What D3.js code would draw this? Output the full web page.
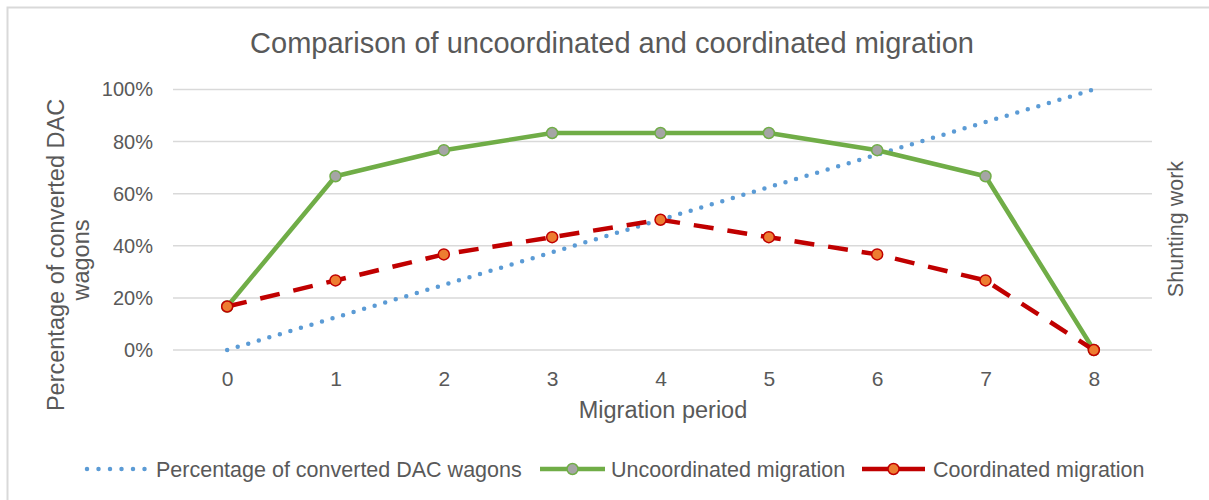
<!DOCTYPE html>
<html><head><meta charset="utf-8">
<script src="https://cdn.jsdelivr.net/npm/d3@7"></script>
<style>body{margin:0;background:#fff}text{font-family:"Liberation Sans",Arial,sans-serif;fill:#595959}</style>
</head><body><svg id="c" width="1209" height="500"></svg>
<script>
const periods = ["0","1","2","3","4","5","6","7","8"];
const convertedDAC = [0, 0.125, 0.25, 0.375, 0.5, 0.625, 0.75, 0.875, 1.0];
const uncoordinated = [0.167, 0.667, 0.767, 0.833, 0.833, 0.833, 0.767, 0.667, 0];
const coordinated = [0.167, 0.267, 0.367, 0.433, 0.5, 0.433, 0.367, 0.267, 0];
const yTicks = [0, 0.2, 0.4, 0.6, 0.8, 1.0];

const svg = d3.select("#c");
svg.append("path").attr("d","M7.5,520V7.5H1220").attr("fill","none").attr("stroke","#d9d9d9").attr("stroke-width",2);

const L=173,R=1148,T=89.5,B=350;
const x = d3.scalePoint().domain(periods).range([L,R]).padding(0.5);
const y = d3.scaleLinear().domain([0,1]).range([B,T]);

// gridlines
svg.append("g").selectAll("line").data(yTicks).join("line")
  .attr("x1",L).attr("x2",R+4).attr("y1",d=>y(d)).attr("y2",d=>y(d))
  .attr("stroke","#d9d9d9").attr("stroke-width",1.5);

// y axis
const ya = svg.append("g").attr("transform",`translate(${L},0)`)
  .call(d3.axisLeft(y).tickValues(yTicks).tickFormat(d3.format(".0%")).tickSize(0).tickPadding(20));
ya.select(".domain").remove();
ya.selectAll("text").attr("font-size",20).style("font-family","Liberation Sans, Arial").attr("fill","#595959");

// x axis
const xa = svg.append("g").attr("transform",`translate(0,${B})`)
  .call(d3.axisBottom(x).tickSize(0).tickPadding(21));
xa.select(".domain").remove();
xa.selectAll("text").attr("font-size",21).style("font-family","Liberation Sans, Arial").attr("fill","#595959");

const line = d3.line().x((d,i)=>x(periods[i])).y(d=>y(d));

// series
svg.append("path").datum(convertedDAC).attr("d",line).attr("fill","none")
  .attr("stroke","#5b9bd5").attr("stroke-width",4.5).attr("stroke-linecap","round").attr("stroke-dasharray","0 11");
svg.append("path").datum(uncoordinated).attr("d",line).attr("fill","none")
  .attr("stroke","#70ad47").attr("stroke-width",4.5).attr("stroke-linejoin","round");
svg.append("g").selectAll("circle").data(uncoordinated).join("circle")
  .attr("cx",(d,i)=>x(periods[i])).attr("cy",d=>y(d)).attr("r",5.5)
  .attr("fill","#a5a5a5").attr("stroke","#70ad47").attr("stroke-width",1.5);
svg.append("path").datum(coordinated).attr("d",line).attr("fill","none")
  .attr("stroke","#c00000").attr("stroke-width",4.5).attr("stroke-dasharray","20 14");
svg.append("g").selectAll("circle").data(coordinated).join("circle")
  .attr("cx",(d,i)=>x(periods[i])).attr("cy",d=>y(d)).attr("r",5.5)
  .attr("fill","#ed7d31").attr("stroke","#c00000").attr("stroke-width",1.5);

// title
svg.append("text").attr("x",612).attr("y",53).attr("text-anchor","middle").attr("font-size",29)
  .text("Comparison of uncoordinated and coordinated migration");
// axis titles
svg.append("text").attr("transform","translate(64,255) rotate(-90)").attr("text-anchor","middle").attr("font-size",23.5)
  .text("Percentage of converted DAC");
svg.append("text").attr("transform","translate(89,260) rotate(-90)").attr("text-anchor","middle").attr("font-size",23.5)
  .text("wagons");
svg.append("text").attr("transform","translate(1183,229) rotate(-90)").attr("text-anchor","middle").attr("font-size",21.5)
  .text("Shunting work");
svg.append("text").attr("x",663).attr("y",418).attr("text-anchor","middle").attr("font-size",23.5)
  .text("Migration period");

// legend
const ly = 469;
const lg = svg.append("g");
lg.append("line").attr("x1",87).attr("x2",146).attr("y1",ly).attr("y2",ly)
  .attr("stroke","#5b9bd5").attr("stroke-width",4.5).attr("stroke-linecap","round").attr("stroke-dasharray","0 11.5");
lg.append("text").attr("x",156).attr("y",ly+8).attr("font-size",21.5).text("Percentage of converted DAC wagons");
lg.append("line").attr("x1",540).attr("x2",605).attr("y1",ly).attr("y2",ly).attr("stroke","#70ad47").attr("stroke-width",4.5);
lg.append("circle").attr("cx",572.5).attr("cy",ly).attr("r",5.5).attr("fill","#a5a5a5").attr("stroke","#70ad47").attr("stroke-width",1.5);
lg.append("text").attr("x",611).attr("y",ly+8).attr("font-size",21.5).text("Uncoordinated migration");
lg.append("line").attr("x1",862).attr("x2",925).attr("y1",ly).attr("y2",ly).attr("stroke","#c00000").attr("stroke-width",4.5).attr("stroke-dasharray","26 11 26");
lg.append("circle").attr("cx",893.5).attr("cy",ly).attr("r",5.5).attr("fill","#ed7d31").attr("stroke","#c00000").attr("stroke-width",1.5);
lg.append("text").attr("x",933).attr("y",ly+8).attr("font-size",21.5).text("Coordinated migration");
</script></body></html>
